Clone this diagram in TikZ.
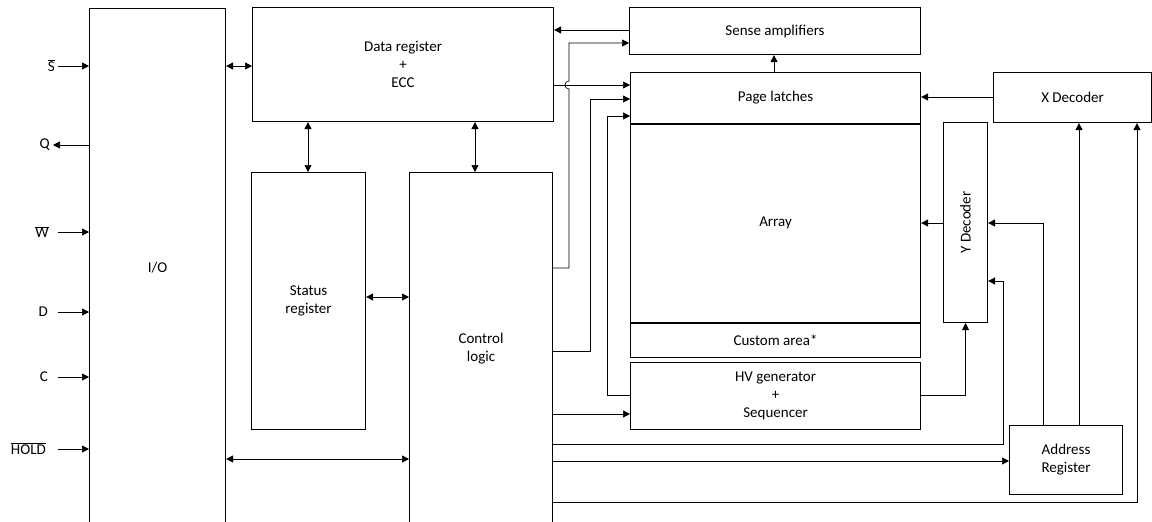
\documentclass[tikz,border=0pt]{standalone}
\usepackage{fontspec}
\setmainfont{Carlito}
\usetikzlibrary{arrows.meta}
\begin{document}
\begin{tikzpicture}[x=1pt,y=-1pt, font=\fontsize{15}{18}\selectfont,
  box/.style={draw, line width=1.1pt, inner sep=0pt, anchor=north west, align=center},
  conn/.style={line width=0.7pt},
  arr/.style={conn, -{Triangle[length=7pt,width=7pt]}},
  darr/.style={conn, {Triangle[length=7pt,width=7pt]}-{Triangle[length=7pt,width=7pt]}},
  sig/.style={anchor=east, inner sep=0pt}]
\useasboundingbox (0,0) rectangle (1152,522);
\clip (0,0) rectangle (1152,522);
% blocks
\node[box, minimum width=136pt, minimum height=518pt] (io) at (89,8) {I/O};
\node[box, minimum width=301pt, minimum height=114pt] (datareg) at (252,7) {Data register\\+\\ECC};
\node[box, minimum width=114pt, minimum height=257pt] (status) at (251,172) {Status\\register};
\node[box, minimum width=143pt, minimum height=352pt] (ctrl) at (409,172) {Control\\logic};
\node[box, minimum width=291pt, minimum height=47pt] (sense) at (629,7) {Sense amplifiers};
\node[box, minimum width=290pt, minimum height=51pt] (latches) at (630,72) {Page latches};
\node[box, minimum width=290pt, minimum height=199pt] (array) at (630,123) {Array};
\node[box, minimum width=290pt, minimum height=35pt] (custom) at (630,322) {Custom area*};
\node[box, minimum width=290pt, minimum height=67pt] (hv) at (630,362) {HV generator\\+\\Sequencer};
\node[box, minimum width=158pt, minimum height=50pt] (xdec) at (993,72) {X Decoder};
\node[box, minimum width=44pt, minimum height=200pt] (ydec) at (943,122) {};
\node[rotate=90] (ydeclbl) at (ydec.center) {Y Decoder};
\node[box, minimum width=113pt, minimum height=69pt] (addr) at (1009,425) {Address\\Register};
\draw[line width=2pt] (latches.south west) -- (latches.south east);
\draw[line width=2pt] (array.south west) -- (array.south east);
% external signals
\node[sig] (sS) at (55,66) {$\overline{\mbox{S}}$};
\node[sig] (sQ) at (50,145) {Q};
\node[sig] (sW) at (49,232) {$\overline{\mbox{W}}$};
\node[sig] (sD) at (48,312) {D};
\node[sig] (sC) at (48,377) {C};
\node[sig] (sH) at (46,449) {$\overline{\mbox{HOLD}}$};
\draw[arr] (58,66) -- (io.west |- sS);
\draw[arr] (io.west |- sQ) -- ([xshift=3pt]sQ.east);
\draw[arr] (58,232) -- (io.west |- sW);
\draw[arr] (58,312) -- (io.west |- sD);
\draw[arr] (58,377) -- (io.west |- sC);
\draw[arr] (58,449) -- (io.west |- sH);
% internal connections
\draw[darr] (io.east |- 0,66) -- (datareg.west |- 0,66);
\draw[darr] (datareg.south -| 308,0) -- (status.north -| 308,0);
\draw[darr] (datareg.south -| 475,0) -- (ctrl.north -| 475,0);
\draw[darr] (status.east |- 0,297) -- (ctrl.west |- 0,297);
\draw[darr] (io.east |- 0,459) -- (ctrl.west |- 0,459);
\draw[arr] (sense.west |- 0,30) -- (datareg.east |- 0,30);
\draw[arr] (latches.north -| 774,0) -- (sense.south -| 774,0);
\draw[arr] (datareg.east |- 0,85) -- (latches.west |- 0,85);
\draw[arr] (ctrl.east |- 0,268) -- (569,268) -- (569,89)
  .. controls (563.7,89) and (563.7,81) .. (569,81) -- (569,43) -- (sense.west |- 0,43);
\draw[arr] (ctrl.east |- 0,351) -- (590,351) -- (590,99) -- (latches.west |- 0,99);
\draw[arr] (hv.west |- 0,395) -- (607,395) -- (607,116) -- (latches.west |- 0,116);
\draw[arr] (ctrl.east |- 0,414) -- (hv.west |- 0,414);
\draw[arr] (hv.east |- 0,395) -| (ydec.south);
\draw[arr] (xdec.west |- 0,97) -- (latches.east |- 0,97);
\draw[arr] (ydec.west |- 0,223) -- (array.east |- 0,223);
\draw[arr] (addr.north -| 1043,0) -- (1043,223) -- (ydec.east |- 0,223);
\draw[arr] (ctrl.east |- 0,444) -- (1003,444) -- (1003,281) -- (ydec.east |- 0,281);
\draw[arr] (ctrl.east |- 0,461) -- (addr.west |- 0,461);
\draw[arr] (addr.north -| 1079,0) -- (xdec.south -| 1079,0);
\draw[arr] (ctrl.east |- 0,502) -- (1137,502) -- (xdec.south -| 1137,0);
\end{tikzpicture}
\end{document}
